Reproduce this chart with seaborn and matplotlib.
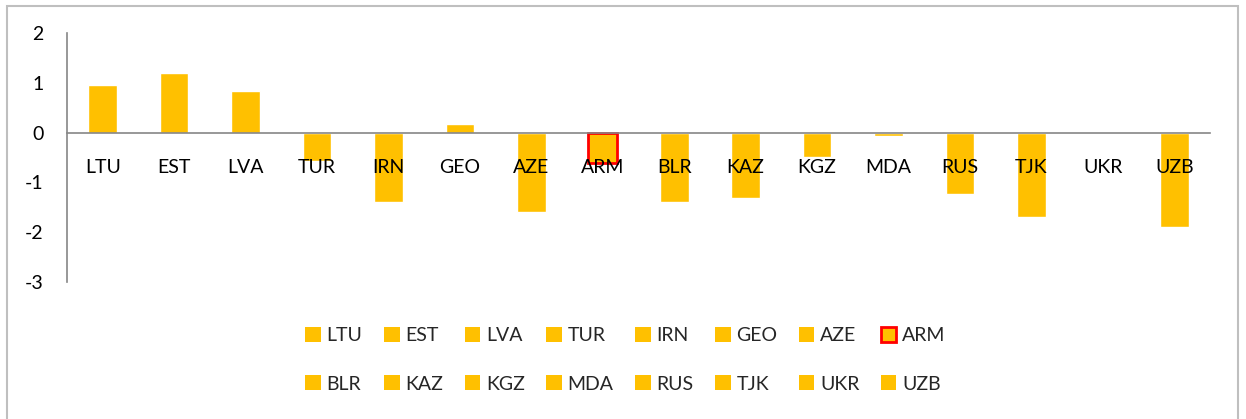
import pandas as pd
import seaborn as sns
import matplotlib
matplotlib.use("Agg")
import matplotlib.pyplot as plt
from matplotlib.patches import Patch, Rectangle

# --- Data ---
countries = ["LTU", "EST", "LVA", "TUR", "IRN", "GEO", "AZE", "ARM",
             "BLR", "KAZ", "KGZ", "MDA", "RUS", "TJK", "UKR", "UZB"]
values = [0.95, 1.19, 0.83, -0.57, -1.40, 0.18, -1.60, -0.62,
          -1.40, -1.32, -0.50, -0.06, -1.23, -1.69, 0.0, -1.89]
highlight = "ARM"

bar_color = "#FFC000"
axis_color = "#868686"

sns.set_style("white")
plt.rcParams["font.family"] = ["Lato", "DejaVu Sans"]
plt.rcParams["axes.unicode_minus"] = False

df = pd.DataFrame({"country": countries, "value": values})

fig = plt.figure(figsize=(12.46, 4.19), dpi=100)
ax = fig.add_axes([67 / 1246, 1 - 282 / 419, (1210 - 67) / 1246, (282 - 33) / 419])

sns.barplot(data=df, x="country", y="value", hue="country",
            palette=[bar_color] * len(countries), legend=False,
            width=0.4, saturation=1, ax=ax)

# red outline on the highlighted bar
idx = countries.index(highlight)
for cont in ax.containers:
    for bar in cont:
        bar.set_zorder(1)
        if abs(bar.get_x() + bar.get_width() / 2 - idx) < 0.01:
            bar.set_edgecolor("#FF0000")
            bar.set_linewidth(2)

ax.set_ylim(-3, 2)
ax.set_xlim(-0.5, len(countries) - 0.5)
ax.set_yticks([2, 1, 0, -1, -2, -3])
ax.set_xlabel("")
ax.set_ylabel("")

# axis look: category axis crosses at zero, labels drawn over the bars
ax.set_axisbelow(False)
ax.spines["top"].set_visible(False)
ax.spines["right"].set_visible(False)
ax.spines["bottom"].set_position(("data", 0))
for s in ("left", "bottom"):
    ax.spines[s].set_color(axis_color)
    ax.spines[s].set_linewidth(1.2)
    ax.spines[s].set_zorder(3)
ax.tick_params(axis="x", length=0, pad=19, labelsize=14, colors="black")
ax.tick_params(axis="y", length=0, pad=17, labelsize=14, colors="black")

# legend, 2 rows of 8 filled row by row
handles = []
for c in countries:
    if c == highlight:
        handles.append(Patch(facecolor=bar_color, edgecolor="#FF0000", linewidth=2, label=c))
    else:
        handles.append(Patch(facecolor=bar_color, edgecolor="none", label=c))
ncol = 8
ordered = []
for col in range(ncol):
    ordered.append(handles[col])
    ordered.append(handles[col + ncol])
fig.legend(handles=ordered, loc="center", bbox_to_anchor=(0.502, 0.141), ncol=ncol,
           frameon=False, fontsize=14, handlelength=0.8, handleheight=0.8,
           handletextpad=0.3, columnspacing=1.1, labelspacing=1.6)

# chart border
fig.patches.append(Rectangle((7 / 1246, -0.02), (1238 - 7) / 1246, 1.02 - 6 / 419,
                             transform=fig.transFigure, fill=False,
                             edgecolor="#BFBFBF", linewidth=1.5))

fig.savefig("out.png", dpi=100)
plt.close(fig)
